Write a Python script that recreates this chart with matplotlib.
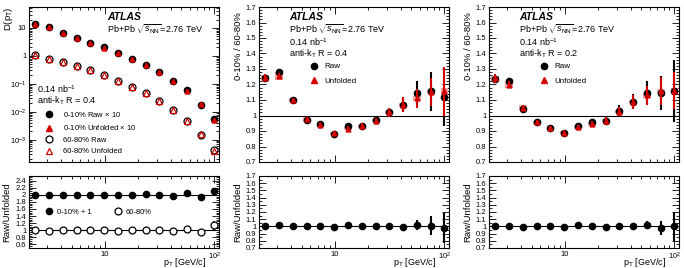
import numpy as np
import matplotlib.pyplot as plt
from matplotlib.ticker import FixedLocator, MultipleLocator, FuncFormatter, NullFormatter
from matplotlib.lines import Line2D
from matplotlib.patches import Rectangle

plt.rcParams['font.family'] = ['Liberation Sans', 'DejaVu Sans']
plt.rcParams['mathtext.fontset'] = 'custom'
plt.rcParams['mathtext.rm'] = 'Liberation Sans'
plt.rcParams['mathtext.it'] = 'Liberation Sans:italic'

# pT bin centres [GeV/c]
pt = [2.34, 3.12, 4.17, 5.56, 7.42, 9.9, 13.2, 17.7, 23.6, 31.5, 42.0, 56.1, 74.9, 100.0]

# left: spectra D(pT)
raw_010 = [13.9, 10.6, 6.8, 4.5, 3.0, 2.0, 1.28, 0.78, 0.49, 0.27, 0.128, 0.059, 0.018, 0.0056]
unf_010 = [13.6, 10.4, 6.75, 4.45, 2.97, 1.98, 1.27, 0.78, 0.485, 0.268, 0.13, 0.056, 0.0185, 0.0052]
raw_6080 = [1.09, 0.78, 0.59, 0.43, 0.30, 0.215, 0.13, 0.080, 0.046, 0.025, 0.0112, 0.0046, 0.0015, 0.00044]
unf_6080 = [1.09, 0.79, 0.59, 0.43, 0.30, 0.213, 0.131, 0.080, 0.0455, 0.025, 0.0113, 0.0045, 0.00157, 0.00039]

# left bottom: raw/unfolded
ru_010_plus1 = [2.0, 2.0, 2.0, 2.0, 2.0, 2.0, 2.0, 1.99, 2.01, 2.0, 1.97, 2.06, 1.95, 2.10]
ru_010_err = [0.005, 0.005, 0.005, 0.005, 0.005, 0.005, 0.005, 0.005, 0.005, 0.008, 0.01, 0.015, 0.02, 0.03]
ru_6080 = [1.0, 0.99, 1.0, 1.0, 1.0, 1.01, 0.99, 1.0, 1.01, 1.0, 0.99, 1.03, 0.94, 1.14]
ru_6080_err = [0.005, 0.005, 0.005, 0.005, 0.005, 0.005, 0.005, 0.005, 0.008, 0.01, 0.015, 0.025, 0.05, 0.12]

# middle: R = 0.4 central/peripheral
r04_raw = [1.245, 1.28, 1.10, 0.97, 0.945, 0.88, 0.93, 0.93, 0.97, 1.02, 1.07, 1.145, 1.155, 1.12]
r04_raw_err = [0.02, 0.02, 0.015, 0.015, 0.015, 0.015, 0.02, 0.02, 0.025, 0.03, 0.05, 0.08, 0.125, 0.19]
r04_unf = [1.245, 1.255, 1.10, 0.975, 0.94, 0.885, 0.915, 0.93, 0.965, 1.02, 1.07, 1.11, 1.15, 1.155]
r04_unf_err = [0.025, 0.02, 0.015, 0.015, 0.015, 0.015, 0.015, 0.02, 0.02, 0.03, 0.05, 0.06, 0.09, 0.155]
r04_unf_sys = [0.015, 0.025, 0.012, 0.015, 0.01, 0.01, 0.01, 0.01, 0.01, 0.01, 0.012, 0.015, 0.012, 0.02]
r04_ratio = [1.0, 1.015, 1.0, 1.0, 1.01, 0.995, 1.02, 1.005, 1.005, 1.0, 0.995, 1.02, 1.01, 0.98]
r04_ratio_err = [0.01, 0.01, 0.01, 0.01, 0.01, 0.01, 0.01, 0.01, 0.015, 0.025, 0.04, 0.07, 0.13, 0.21]

# right: R = 0.2 central/peripheral
r02_raw = [1.235, 1.225, 1.04, 0.955, 0.92, 0.89, 0.93, 0.955, 0.965, 1.03, 1.09, 1.145, 1.145, 1.16]
r02_raw_err = [0.02, 0.02, 0.015, 0.015, 0.015, 0.015, 0.015, 0.02, 0.025, 0.035, 0.05, 0.075, 0.11, 0.2]
r02_unf = [1.24, 1.20, 1.05, 0.955, 0.92, 0.89, 0.925, 0.945, 0.965, 1.025, 1.09, 1.13, 1.16, 1.16]
r02_unf_err = [0.03, 0.02, 0.015, 0.015, 0.015, 0.015, 0.015, 0.02, 0.025, 0.03, 0.045, 0.06, 0.09, 0.12]
r02_unf_sys = [0.015, 0.025, 0.015, 0.012, 0.01, 0.01, 0.01, 0.01, 0.01, 0.01, 0.012, 0.015, 0.012, 0.02]
r02_ratio = [1.0, 1.01, 0.995, 1.005, 1.005, 0.995, 1.015, 1.01, 0.995, 1.0, 1.005, 1.02, 0.98, 1.0]
r02_ratio_err = [0.01, 0.01, 0.01, 0.01, 0.01, 0.01, 0.01, 0.01, 0.01, 0.02, 0.035, 0.06, 0.1, 0.2]

RED = '#d40000'
PINK = '#f7a0a0'
FS_TICK = 5.5
FS_LAB = 6.8

fig = plt.figure(figsize=(6.84, 2.68), dpi=100)
W = 684.0
H = 268.0
lefts = [29, 259, 489]
aw = 190
top_ax = [fig.add_axes([l / W, 1 - 162 / H, aw / W, 155 / H]) for l in lefts]
bot_ax = [fig.add_axes([l / W, 1 - 248 / H, aw / W, 72 / H]) for l in lefts]


def g_fmt(v, pos):
    return '%g' % v


def style(ax):
    ax.set_xscale('log')
    ax.set_xlim(2.05, 110)
    ax.xaxis.set_major_locator(FixedLocator([10, 100]))
    ax.xaxis.set_minor_locator(FixedLocator([3, 4, 5, 6, 7, 8, 9, 20, 30, 40, 50, 60, 70, 80, 90]))
    ax.xaxis.set_minor_formatter(NullFormatter())
    ax.tick_params(which='both', direction='in', top=True, right=True, labelsize=FS_TICK, width=0.6, pad=2)
    ax.tick_params(which='major', length=5)
    ax.tick_params(which='minor', length=2.5)
    for s in ax.spines.values():
        s.set_linewidth(0.8)


for ax in top_ax + bot_ax:
    style(ax)

for ax in top_ax:
    ax.set_xticklabels([])

for ax in bot_ax:
    ax.set_xticklabels(['10', '$10^2$'])
    ax.set_xlabel(r'p$_{\mathrm{T}}$ [GeV/c]', fontsize=6.5, loc='right')
    ax.xaxis.set_label_coords(0.935, -0.115)

# ---- left top: spectra
ax = top_ax[0]
ax.set_yscale('log')
ax.set_ylim(1.6e-4, 56)
ax.yaxis.set_major_locator(FixedLocator([1e-3, 1e-2, 1e-1, 1, 10]))
ax.set_yticklabels(['$10^{-3}$', '$10^{-2}$', '$10^{-1}$', '1', '10'])
ax.plot(pt, raw_010, 'o', color='black', ms=4.5)
ax.plot(pt, unf_010, '^', color=RED, ms=3.5)
ax.plot(pt, raw_6080, 'o', mfc='none', mec='black', mew=0.9, ms=5)
ax.plot(pt, unf_6080, '^', mfc='none', mec=RED, mew=0.9, ms=4.5)
ax.set_ylabel(r'D(p$_{\mathrm{T}}$)', fontsize=FS_LAB, loc='top')
ax.yaxis.set_label_coords(-0.075, 1.0)
h = [Line2D([], [], ls='none', marker='o', color='black', ms=4.5),
     Line2D([], [], ls='none', marker='^', color=RED, ms=4),
     Line2D([], [], ls='none', marker='o', mfc='none', mec='black', mew=0.9, ms=5),
     Line2D([], [], ls='none', marker='^', mfc='none', mec=RED, mew=0.9, ms=5)]
labs = [r'0-10% Raw $\times$ 10', r'0-10% Unfolded $\times$ 10', '60-80% Raw', '60-80% Unfolded']
leg = ax.legend(h, labs, loc='upper left', bbox_to_anchor=(0.085, 0.335), frameon=False, fontsize=5.5,
                borderpad=0, handlelength=1.0, handletextpad=1.3, labelspacing=0.55, borderaxespad=0)
ax.text(0.04, 0.47, '0.14 nb$^{-1}$', transform=ax.transAxes, fontsize=6.5, va='center')
ax.text(0.04, 0.395, r'anti-k$_{\mathrm{T}}$ R = 0.4', transform=ax.transAxes, fontsize=6.5, va='center')
ax.text(0.41, 0.935, 'ATLAS', transform=ax.transAxes, fontsize=7.5, weight='bold', style='italic', va='center')
ax.text(0.41, 0.855, r'Pb+Pb $\sqrt{s_{\mathrm{NN}}}$=2.76 TeV', transform=ax.transAxes, fontsize=6.5, va='center')

# ---- left bottom
ax = bot_ax[0]
ax.set_ylim(0.5, 2.53)
ax.yaxis.set_major_locator(MultipleLocator(0.2))
ax.yaxis.set_minor_locator(MultipleLocator(0.05))
ax.yaxis.set_major_formatter(FuncFormatter(g_fmt))
ax.axhline(1, color='black', lw=0.8)
ax.axhline(2, color='black', lw=0.8)
ax.errorbar(pt, ru_010_plus1, yerr=ru_010_err, fmt='o', color='black', ms=4.5, elinewidth=1.2, capsize=0)
ax.errorbar(pt, ru_6080, yerr=ru_6080_err, fmt='o', mfc='white', mec='black', ecolor='black', mew=0.9,
            ms=5, elinewidth=1.2, capsize=0)
ax.set_ylabel('Raw/Unfolded', fontsize=FS_LAB)
ax.yaxis.set_label_coords(-0.095, 0.5)
h = [Line2D([], [], ls='none', marker='o', color='black', ms=4.5),
     Line2D([], [], ls='none', marker='o', mfc='none', mec='black', mew=0.9, ms=5)]
ax.legend(h, ['0-10% + 1', '60-80%'], loc='center left', bbox_to_anchor=(0.085, 0.5), ncol=2, frameon=False,
          fontsize=5.5, borderpad=0, handlelength=1.0, handletextpad=0.5, columnspacing=3.0, borderaxespad=0)

# ---- middle / right
panels = [
    (top_ax[1], bot_ax[1], r04_raw, r04_raw_err, r04_unf, r04_unf_err, r04_unf_sys, r04_ratio, r04_ratio_err, '0.4'),
    (top_ax[2], bot_ax[2], r02_raw, r02_raw_err, r02_unf, r02_unf_err, r02_unf_sys, r02_ratio, r02_ratio_err, '0.2'),
]
for axt, axb, raw, raw_e, unf, unf_e, unf_s, rat, rat_e, rlab in panels:
    axt.set_ylim(0.7, 1.7)
    axt.yaxis.set_major_locator(MultipleLocator(0.1))
    axt.yaxis.set_minor_locator(MultipleLocator(0.02))
    axt.yaxis.set_major_formatter(FuncFormatter(g_fmt))
    axt.axhline(1, color='black', lw=0.8)
    for x, y, s in zip(pt, unf, unf_s):
        x0 = x / 10 ** 0.035
        axt.add_patch(Rectangle((x0, y - s), x * 10 ** 0.035 - x0, 2 * s, color=PINK, lw=0, zorder=2))
    axt.errorbar(pt, raw, yerr=raw_e, fmt='o', color='black', ms=4.5, elinewidth=1.5, capsize=0, zorder=3)
    axt.errorbar(pt, unf, yerr=unf_e, fmt='^', color=RED, ms=3.5, elinewidth=1.5, capsize=0, zorder=4)
    axt.set_ylabel('0-10% / 60-80%', fontsize=FS_LAB, loc='top')
    axt.yaxis.set_label_coords(-0.085, 0.97)
    axt.text(0.16, 0.935, 'ATLAS', transform=axt.transAxes, fontsize=7.5, weight='bold', style='italic', va='center')
    axt.text(0.16, 0.855, r'Pb+Pb $\sqrt{s_{\mathrm{NN}}}$=2.76 TeV', transform=axt.transAxes, fontsize=6.5, va='center')
    axt.text(0.16, 0.775, '0.14 nb$^{-1}$', transform=axt.transAxes, fontsize=6.5, va='center')
    axt.text(0.16, 0.70, r'anti-k$_{\mathrm{T}}$ R = ' + rlab, transform=axt.transAxes, fontsize=6.5, va='center')
    h = [Line2D([], [], ls='none', marker='o', color='black', ms=4.5),
         Line2D([], [], ls='none', marker='^', color=RED, ms=4)]
    axt.legend(h, ['Raw', 'Unfolded'], loc='upper left', bbox_to_anchor=(0.27, 0.64), frameon=False, fontsize=5.8,
               borderpad=0, handlelength=1.0, handletextpad=0.8, labelspacing=0.8, borderaxespad=0)

    axb.set_ylim(0.7, 1.7)
    axb.yaxis.set_major_locator(MultipleLocator(0.1))
    axb.yaxis.set_minor_locator(MultipleLocator(0.05))
    axb.yaxis.set_major_formatter(FuncFormatter(g_fmt))
    axb.axhline(1, color='black', lw=0.8)
    axb.errorbar(pt, rat, yerr=rat_e, fmt='o', color='black', ms=4.5, elinewidth=1.5, capsize=0)
    axb.set_ylabel('Raw/Unfolded', fontsize=FS_LAB)
    axb.yaxis.set_label_coords(-0.09, 0.5)

fig.savefig('out.png', dpi=100)
